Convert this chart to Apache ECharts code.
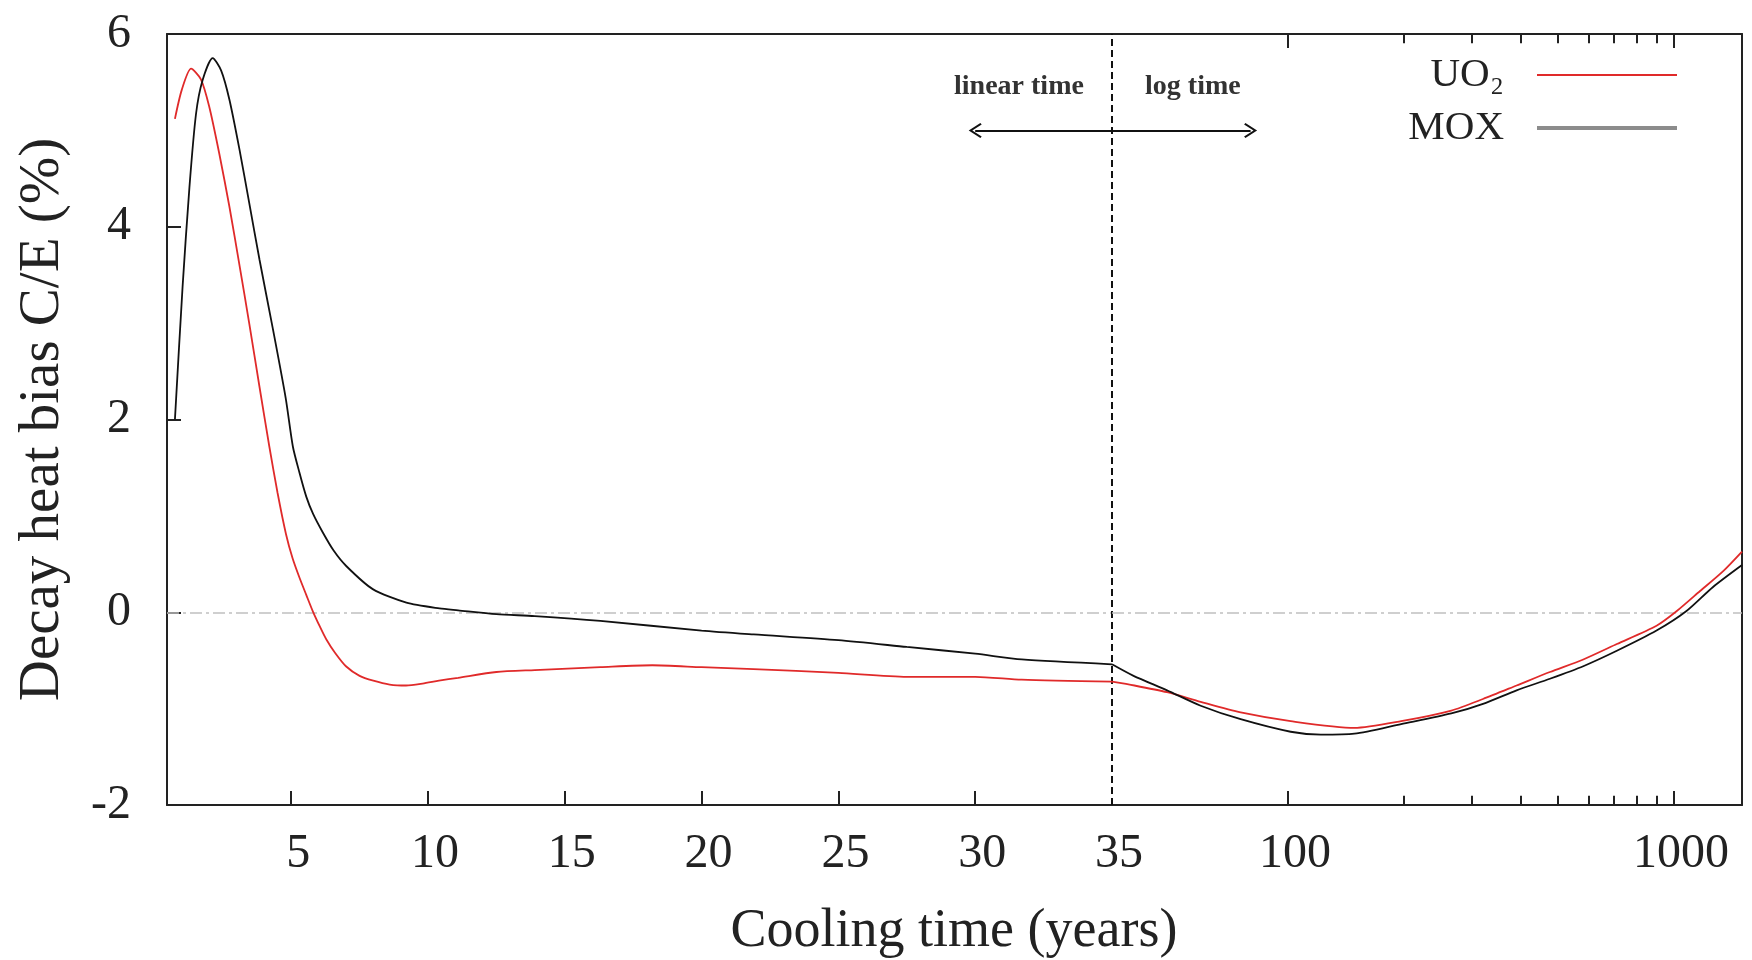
<!DOCTYPE html>
<html>
<head>
<meta charset="utf-8">
<script src="https://cdn.jsdelivr.net/npm/echarts@6/dist/echarts.min.js"></script>
<style>html,body{margin:0;padding:0;background:#fff}#c{width:1752px;height:960px}</style>
</head>
<body>
<div id="c"></div>
<script>
// ---- data (cooling time in years, C/E bias in %) ----
const uo2LinT = [0.75, 1.0, 1.34, 1.7, 2.0, 2.37, 2.74, 3.11, 3.47, 3.84, 4.2, 4.5, 4.81, 5.05, 5.3, 5.55, 5.79, 6.05, 6.28, 6.6, 7.0, 7.5, 8.0, 8.6, 9.2, 9.8, 10.4, 11.1, 12.5, 13.9, 16.3, 18.2, 20, 21.9, 25, 27.5, 30, 31.7, 35];
const uo2LinV = [5.12, 5.42, 5.64, 5.53, 5.25, 4.76, 4.21, 3.60, 2.99, 2.34, 1.72, 1.24, 0.81, 0.56, 0.36, 0.18, 0.01, -0.15, -0.28, -0.42, -0.56, -0.66, -0.71, -0.75, -0.76, -0.74, -0.71, -0.68, -0.62, -0.60, -0.57, -0.55, -0.57, -0.59, -0.63, -0.67, -0.67, -0.70, -0.72];
const moxLinT = [0.75, 1.03, 1.28, 1.52, 1.76, 2.13, 2.44, 2.74, 3.11, 3.47, 3.84, 4.33, 4.8, 5.06, 5.3, 5.55, 5.8, 6.15, 6.55, 7.01, 7.98, 9.21, 10.42, 11.1, 12.5, 13.9, 16.3, 20, 21.9, 25, 27.5, 30, 31.7, 35];
const moxLinV = [2.0, 3.38, 4.41, 5.17, 5.52, 5.75, 5.62, 5.32, 4.80, 4.24, 3.66, 2.94, 2.22, 1.72, 1.45, 1.20, 1.02, 0.83, 0.64, 0.48, 0.24, 0.10, 0.04, 0.02, -0.02, -0.04, -0.09, -0.19, -0.23, -0.29, -0.36, -0.43, -0.49, -0.54];
const uo2LogT = [35, 40, 48.6, 59.4, 75.4, 101.6, 148.6, 196.4, 264.9, 320, 391, 477, 582, 711, 901, 1015, 1168, 1343, 1500];
const uo2LogV = [-0.72, -0.76, -0.83, -0.93, -1.04, -1.13, -1.20, -1.13, -1.02, -0.90, -0.76, -0.62, -0.49, -0.33, -0.14, 0.01, 0.22, 0.43, 0.63];
const moxLogT = [35, 39.8, 48.6, 59.4, 75.4, 101.6, 121.7, 148.6, 196.4, 264.9, 320, 391, 477, 582, 711, 901, 1075, 1260, 1500];
const moxLogV = [-0.54, -0.66, -0.81, -0.97, -1.11, -1.24, -1.27, -1.26, -1.16, -1.05, -0.95, -0.81, -0.69, -0.56, -0.40, -0.19, 0.01, 0.26, 0.49];

// ---- axis ticks ----
const linTickLabels = [5, 10, 15, 20, 25, 30, 35];
const linTicks = [5, 10, 15, 20, 25, 30];
const logMajor = [100, 1000];
const logMinor = [200, 300, 400, 500, 600, 700, 800, 900];
const linRange = [0.46, 35];
const logRange = [35, 1500];
const yRange = [-2, 6];
const majorTickLen = 0.145;   // in y data units (about 14 px)
const minorTickLen = 0.095;   // about 9 px

// ---- annotations ----
const splitT = 35;
const arrowY = 5;
const arrowLinEnd = 30;
const arrowLogEnd = 80;
const linText = {name: 'linear time', t: 31.6, v: 5.45};
const logText = {name: 'log time', t: 56.7, v: 5.45};

const FONT = "'Liberation Serif', 'DejaVu Serif', serif";
const RED = '#e02a2a';
const BLACK = '#111';
const AX = '#222';
const zip = (a, b) => a.map((x, i) => [x, b[i]]);

const chart = echarts.init(document.getElementById('c'), null, {renderer: 'canvas'});

const axisLine = {show: true, onZero: false, lineStyle: {color: AX, width: 2}};
const chev = 'path://M10,0 L20,13 L18,14.5 L10,4 L2,14.5 L0,13 Z';
const tickLabel = {fontSize: 48, fontFamily: FONT, color: AX, margin: 25, padding: [0, 0, 0, 14], formatter: v => String(v)};
const tickStyle = {color: AX, width: 2};

const zeroLine = () => ({yAxis: 0, lineStyle: {color: '#c0c0c0', width: 1.5, type: [12, 4, 3, 4]}});
const hidden = {color: 'rgba(0,0,0,0)', borderColor: 'rgba(0,0,0,0)', borderWidth: 0, opacity: 0};

// log-axis ticks (bottom pointing up, top pointing down), positioned through the log scale
const logTickSegs = [];
logMajor.forEach(v => {
  logTickSegs.push([{coord: [v, yRange[0]]}, {coord: [v, yRange[0] + majorTickLen]}]);
  logTickSegs.push([{coord: [v, yRange[1]]}, {coord: [v, yRange[1] - majorTickLen]}]);
});
logMinor.forEach(v => {
  logTickSegs.push([{coord: [v, yRange[0]]}, {coord: [v, yRange[0] + minorTickLen]}]);
  logTickSegs.push([{coord: [v, yRange[1]]}, {coord: [v, yRange[1] - minorTickLen]}]);
});

const option = {
  animation: false,
  backgroundColor: '#fff',
  grid: [
    {left: 167, top: 34, width: 945, height: 771},
    {left: 1112, top: 34, width: 630, height: 771}
  ],
  xAxis: [
    {gridIndex: 0, type: 'value', position: 'bottom', min: linRange[0], max: linRange[1],
      axisLine, splitLine: {show: false},
      axisTick: {show: true, inside: true, length: 14, customValues: linTicks, lineStyle: tickStyle},
      axisLabel: Object.assign({show: true, customValues: linTickLabels}, tickLabel)},
    {gridIndex: 0, type: 'value', position: 'top', min: linRange[0], max: linRange[1],
      axisLine, splitLine: {show: false}, axisTick: {show: false}, axisLabel: {show: false}},
    {gridIndex: 1, type: 'log', logBase: 10, position: 'bottom', min: logRange[0], max: logRange[1],
      axisLine, splitLine: {show: false}, minorTick: {show: false}, axisTick: {show: false},
      axisLabel: Object.assign({show: true, customValues: logMajor}, tickLabel)},
    {gridIndex: 1, type: 'log', logBase: 10, position: 'top', min: logRange[0], max: logRange[1],
      axisLine, splitLine: {show: false}, minorTick: {show: false}, axisTick: {show: false},
      axisLabel: {show: false}}
  ],
  yAxis: [
    {gridIndex: 0, type: 'value', position: 'left', min: yRange[0], max: yRange[1], interval: 2,
      axisLine, splitLine: {show: false},
      axisTick: {show: true, inside: true, length: 14, lineStyle: tickStyle},
      axisLabel: {fontSize: 48, fontFamily: FONT, color: AX, margin: 36},
      name: 'Decay heat bias C/E (%)', nameLocation: 'middle', nameGap: 95, nameRotate: 90,
      nameTextStyle: {fontSize: 57, fontFamily: FONT, color: AX}},
    {gridIndex: 1, type: 'value', position: 'right', min: yRange[0], max: yRange[1], interval: 2,
      axisLine, splitLine: {show: false}, axisTick: {show: false}, axisLabel: {show: false}}
  ],
  legend: {
    orient: 'vertical', right: 68, top: 47, align: 'right',
    itemWidth: 140, itemHeight: 16, itemGap: 7,
    selectedMode: false,
    textStyle: {fontSize: 41, fontFamily: FONT, color: AX, padding: [0, 28, 0, 0], lineHeight: 46},
    data: [
      {name: 'UO₂', lineStyle: {color: RED, width: 2}, itemStyle: hidden},
      {name: 'MOX', lineStyle: {color: '#8c8c8c', width: 4}, itemStyle: hidden}
    ]
  },
  graphic: [
    {type: 'text', x: 954, y: 932, style: {text: 'Cooling time (years)', fontSize: 54, fontFamily: FONT, fill: AX, align: 'center', verticalAlign: 'middle'}}
  ],
  series: [
    {type: 'line', xAxisIndex: 0, yAxisIndex: 0, data: [], silent: true, z: 1,
      markLine: {silent: true, symbol: 'none', animation: false, label: {show: false}, z: 1,
        data: [zeroLine(), {xAxis: splitT, lineStyle: {color: BLACK, width: 2, type: [7, 4]}}]}},
    {type: 'line', xAxisIndex: 2, yAxisIndex: 1, data: [], silent: true, z: 1,
      markLine: {silent: true, symbol: 'none', animation: false, label: {show: false}, z: 1,
        data: [zeroLine()]}},
    {type: 'line', xAxisIndex: 2, yAxisIndex: 1, data: [], silent: true, z: 7,
      markLine: {silent: true, symbol: 'none', animation: false, label: {show: false},
        lineStyle: {color: AX, width: 2, type: 'solid'}, data: logTickSegs}},
    {type: 'line', xAxisIndex: 0, yAxisIndex: 0, data: [], silent: true, z: 6,
      markLine: {silent: true, symbol: ['none', chev], symbolSize: [15, 13], animation: false, label: {show: false},
        lineStyle: {color: BLACK, width: 2, type: 'solid'},
        data: [[{coord: [splitT, arrowY]}, {coord: [arrowLinEnd, arrowY]}]]},
      markPoint: {silent: true, symbol: 'circle', symbolSize: 1, itemStyle: {color: 'rgba(0,0,0,0)'},
        label: {show: true, position: 'inside', formatter: '{b}', fontSize: 28, fontWeight: 'bold', fontFamily: FONT, color: '#333'},
        data: [{name: linText.name, coord: [linText.t, linText.v]}]}},
    {type: 'line', xAxisIndex: 2, yAxisIndex: 1, data: [], silent: true, z: 6,
      markLine: {silent: true, symbol: ['none', chev], symbolSize: [15, 13], animation: false, label: {show: false},
        lineStyle: {color: BLACK, width: 2, type: 'solid'},
        data: [[{coord: [splitT, arrowY]}, {coord: [arrowLogEnd, arrowY]}]]},
      markPoint: {silent: true, symbol: 'circle', symbolSize: 1, itemStyle: {color: 'rgba(0,0,0,0)'},
        label: {show: true, position: 'inside', formatter: '{b}', fontSize: 28, fontWeight: 'bold', fontFamily: FONT, color: '#333'},
        data: [{name: logText.name, coord: [logText.t, logText.v]}]}},
    {name: 'UO₂', type: 'line', xAxisIndex: 0, yAxisIndex: 0, data: zip(uo2LinT, uo2LinV), symbol: 'none', smooth: 0.25, z: 4,
      lineStyle: {color: RED, width: 1.8}, itemStyle: {color: RED}},
    {name: 'MOX', type: 'line', xAxisIndex: 0, yAxisIndex: 0, data: zip(moxLinT, moxLinV), symbol: 'none', smooth: 0.25, z: 4,
      lineStyle: {color: BLACK, width: 1.8}, itemStyle: {color: BLACK}},
    {name: 'UO₂', type: 'line', xAxisIndex: 2, yAxisIndex: 1, data: zip(uo2LogT, uo2LogV), symbol: 'none', smooth: 0.25, z: 4,
      lineStyle: {color: RED, width: 1.8}, itemStyle: {color: RED}},
    {name: 'MOX', type: 'line', xAxisIndex: 2, yAxisIndex: 1, data: zip(moxLogT, moxLogV), symbol: 'none', smooth: 0.25, z: 4,
      lineStyle: {color: BLACK, width: 1.8}, itemStyle: {color: BLACK}}
  ]
};
chart.setOption(option);
</script>
</body>
</html>
